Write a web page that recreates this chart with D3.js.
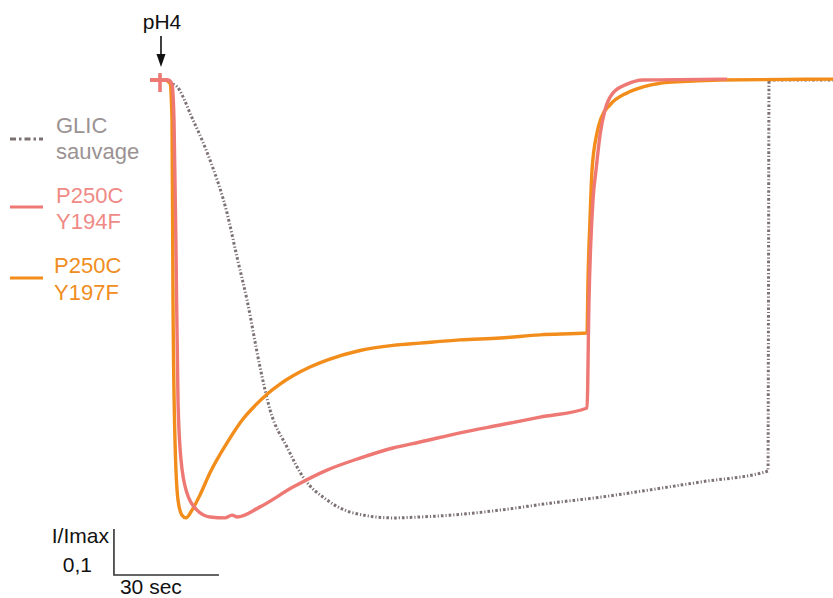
<!DOCTYPE html>
<html>
<head>
<meta charset="utf-8">
<script src="https://cdn.jsdelivr.net/npm/d3@7"></script>
<style>
  html, body { margin: 0; padding: 0; background: #ffffff; }
  svg { display: block; font-family: "Liberation Sans", Arial, Helvetica, sans-serif; }
</style>
</head>
<body>
<svg id="chart" width="833" height="598"></svg>
<script>
// ---- Data: time (s) from start of recording, normalized current I/Imax (inward = negative)
const seriesNames = ["GLIC sauvage", "P250C Y194F", "P250C Y197F"];

const glicWT = [
  [6.29, -0.009], [7.14, -0.011], [12.29, -0.087], [17.14, -0.174], [22.0, -0.289],
  [24.86, -0.385], [27.71, -0.478], [31.43, -0.624], [34.29, -0.717], [39.14, -0.798],
  [43.71, -0.863], [50.57, -0.913], [58.0, -0.941], [69.43, -0.952], [77.14, -0.950],
  [85.71, -0.946], [100.0, -0.935], [114.29, -0.920], [128.57, -0.907], [142.86, -0.891],
  [157.14, -0.874], [176.57, -0.850], [176.7, -0.5], [176.86, 0.0], [195.14, 0.0]
];

const p250cY194F = [
  [0.0, 0.0], [5.14, 0.0],
  [6.29, -0.009], [6.86, -0.087], [7.43, -0.370], [8.0, -0.696], [8.86, -0.826],
  [10.57, -0.898], [13.43, -0.935], [17.14, -0.950], [21.43, -0.952], [23.43, -0.946],
  [24.86, -0.950], [31.43, -0.928], [40.86, -0.885], [50.57, -0.848], [60.0, -0.822],
  [69.43, -0.800], [77.14, -0.787], [88.57, -0.767], [100.0, -0.750], [111.43, -0.733],
  [124.86, -0.713], [125.43, -0.478], [126.57, -0.261], [127.43, -0.196], [128.57, -0.120],
  [130.0, -0.065], [132.29, -0.028], [136.29, -0.009], [140.86, 0.0], [164.86, 0.002]
];

// solution-exchange artifact on the P250C Y194F trace at pH4 application
const stimArtifactV = [[2.86, 0.015], [2.86, -0.026]];
const stimArtifactH = [[0.0, 0.0], [5.14, 0.0]];

const p250cY197F = [
  [0.0, 0.0], [4.29, 0.0], [5.71, -0.007], [6.29, -0.087], [6.57, -0.478], [7.14, -0.783],
  [8.0, -0.913], [9.14, -0.946], [10.29, -0.952], [12.0, -0.935], [14.29, -0.902],
  [17.14, -0.854], [22.0, -0.789], [26.57, -0.737], [30.0, -0.708], [33.43, -0.683],
  [37.14, -0.661], [40.86, -0.643], [45.71, -0.624], [50.57, -0.609], [60.0, -0.588],
  [69.43, -0.577], [77.14, -0.572], [88.57, -0.565],
  [100.0, -0.561], [111.43, -0.554], [124.86, -0.550], [125.14, -0.435], [125.71, -0.304],
  [126.29, -0.196], [127.71, -0.115], [128.86, -0.083], [131.43, -0.054], [136.29, -0.028],
  [140.86, -0.015], [145.71, -0.007], [150.57, -0.004], [162.86, 0.0], [195.14, 0.002]
];

const scaleBarTime = 30;      // seconds
const scaleBarCurrent = 0.1;  // I/Imax
const scaleBarStart = [-10.3, -0.976]; // t, I of scale-bar corner (top of vertical bar)
const pHApplication = 3.14;   // s, arrow position

const colors = { wt: "#7d7173", y194: "#ee7874", y197: "#f28d1c" };
const textColors = { wt: "#9b9293", y194: "#ef8a86", y197: "#f08d22" };

// ---- Scales
const svg = d3.select("#chart");
const x = d3.scaleLinear().domain([0, 195.14]).range([150, 833]);
const y = d3.scaleLinear().domain([0, -1]).range([80, 540]);

const line = d3.line().x(d => x(d[0])).y(d => y(d[1])).curve(d3.curveMonotoneX);
const straight = d3.line().x(d => x(d[0])).y(d => y(d[1]));

// ---- Traces
svg.append("path").datum(glicWT)
  .attr("d", line).attr("fill", "none")
  .attr("stroke", colors.wt).attr("stroke-width", 3)
  .attr("stroke-dasharray", "2.6,2,1.2,2");

svg.append("path").datum(p250cY197F)
  .attr("d", line).attr("fill", "none")
  .attr("stroke", colors.y197).attr("stroke-width", 3.4)
  .attr("stroke-linejoin", "round");

svg.append("path").datum(p250cY194F)
  .attr("d", line).attr("fill", "none")
  .attr("stroke", colors.y194).attr("stroke-width", 3.4)
  .attr("stroke-linejoin", "round");

[stimArtifactV, stimArtifactH].forEach(a => {
  svg.append("path").datum(a).attr("d", straight).attr("fill", "none")
    .attr("stroke", colors.y194).attr("stroke-width", 3.6);
});

// ---- pH4 arrow
const ax = x(pHApplication);
svg.append("text").attr("x", ax + 1).attr("y", 29)
  .attr("text-anchor", "middle").attr("font-size", 21).attr("fill", "#111")
  .text("pH4");
svg.append("line").attr("x1", ax).attr("x2", ax).attr("y1", 36).attr("y2", 58)
  .attr("stroke", "#111").attr("stroke-width", 1.6);
svg.append("path")
  .attr("d", `M${ax - 4.5},54 L${ax + 4.5},54 L${ax},67 Z`)
  .attr("fill", "#111");

// ---- Legend
const legend = [
  { key: "wt", lines: ["GLIC", "sauvage"], ly: 139, ty: [133, 159], dash: "6,3,2.5,3", w: 3 },
  { key: "y194", lines: ["P250C", "Y194F"], ly: 207, ty: [203, 229], dash: null, w: 3 },
  { key: "y197", lines: ["P250C", "Y197F"], ly: 278, ty: [273, 300], dash: null, w: 3 }
];
legend.forEach((d, i) => {
  const l = svg.append("line").attr("x1", 10).attr("x2", 43).attr("y1", d.ly).attr("y2", d.ly)
    .attr("stroke", colors[d.key]).attr("stroke-width", d.w);
  if (d.dash) l.attr("stroke-dasharray", d.dash);
  const tx = i === 2 ? 54 : 56;
  d.lines.forEach((s, j) => {
    svg.append("text").attr("x", tx).attr("y", d.ty[j])
      .attr("font-size", 22).attr("fill", textColors[d.key]).text(s);
  });
});

// ---- Scale bar
const sx0 = x(scaleBarStart[0]);
const sy0 = y(scaleBarStart[1]);
const sy1 = y(scaleBarStart[1] - scaleBarCurrent);
const sx1 = x(scaleBarStart[0] + scaleBarTime);
svg.append("path")
  .attr("d", `M${sx0},${sy0} L${sx0},${sy1} L${sx1},${sy1}`)
  .attr("fill", "none").attr("stroke", "#333").attr("stroke-width", 1.6);
svg.append("text").attr("x", sx0 - 5).attr("y", 543).attr("text-anchor", "end")
  .attr("font-size", 21).attr("fill", "#111").text("I/Imax");
svg.append("text").attr("x", sx0 - 22).attr("y", 572).attr("text-anchor", "end")
  .attr("font-size", 21).attr("fill", "#111").text("0,1");
svg.append("text").attr("x", sx0 + 6).attr("y", 594)
  .attr("font-size", 21).attr("fill", "#111").text("30 sec");
</script>
</body>
</html>
